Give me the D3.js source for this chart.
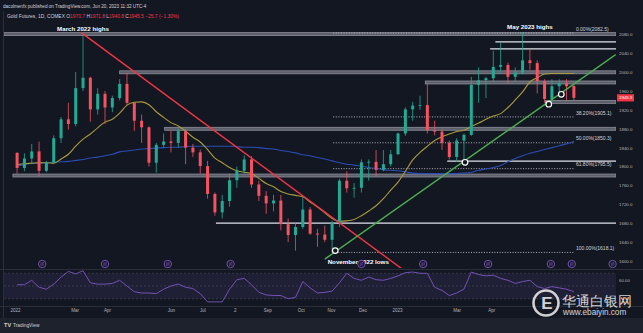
<!DOCTYPE html>
<html><head><meta charset="utf-8">
<script src="https://cdn.jsdelivr.net/npm/d3@7"></script>
<style>
body{margin:0;background:#131722;overflow:hidden}
svg{display:block}
text{font-family:"Liberation Sans",Arial,sans-serif}
</style>
</head><body>
<svg id="c" width="643" height="333"></svg>
<script>
// ---------- DATA ----------
const weeks = ["2022-01-03","2022-01-10","2022-01-17","2022-01-24","2022-01-31","2022-02-07","2022-02-14","2022-02-21","2022-02-28","2022-03-07","2022-03-14","2022-03-21","2022-03-28","2022-04-04","2022-04-11","2022-04-18","2022-04-25","2022-05-02","2022-05-09","2022-05-16","2022-05-23","2022-05-30","2022-06-06","2022-06-13","2022-06-20","2022-06-27","2022-07-04","2022-07-11","2022-07-18","2022-07-25","2022-08-01","2022-08-08","2022-08-15","2022-08-22","2022-08-29","2022-09-05","2022-09-12","2022-09-19","2022-09-26","2022-10-03","2022-10-10","2022-10-17","2022-10-24","2022-10-31","2022-11-07","2022-11-14","2022-11-21","2022-11-28","2022-12-05","2022-12-12","2022-12-19","2022-12-26","2023-01-02","2023-01-09","2023-01-16","2023-01-23","2023-01-30","2023-02-06","2023-02-13","2023-02-20","2023-02-27","2023-03-06","2023-03-13","2023-03-20","2023-03-27","2023-04-03","2023-04-10","2023-04-17","2023-04-24","2023-05-01","2023-05-08","2023-05-15","2023-05-22","2023-05-29","2023-06-05","2023-06-12","2023-06-19"];
const open  = [1829,1797,1817,1832,1791,1808,1860,1900,1890,1966,1988,1921,1954,1925,1945,1975,1935,1897,1883,1808,1846,1853,1850,1875,1840,1830,1801,1742,1703,1727,1771,1791,1815,1762,1738,1722,1728,1678,1655,1672,1709,1658,1656,1645,1681,1770,1754,1755,1809,1810,1793,1805,1826,1870,1921,1929,1930,1877,1874,1850,1820,1855,1867,1973,1983,1987,2011,2015,1990,1999,2025,2019,1981,1943,1970,1977,1970.7];
const high  = [1830,1828,1848,1853,1812,1866,1905,1935,2000,2079,1990,1966,1960,1950,1985,1998,1935,1910,1885,1850,1870,1876,1880,1880,1848,1836,1812,1745,1740,1785,1800,1824,1822,1770,1748,1740,1740,1690,1680,1735,1714,1668,1675,1685,1774,1790,1765,1815,1815,1835,1835,1835,1872,1925,1937,1950,1975,1897,1880,1855,1860,1870,1990,2010,1990,2045,2063,2020,2010,2085,2048,2025,1985,1985,1985,1985,1971.8];
const low   = [1785,1790,1805,1780,1788,1805,1850,1878,1885,1960,1895,1910,1890,1915,1940,1930,1875,1850,1800,1787,1840,1830,1840,1805,1820,1785,1732,1696,1690,1715,1755,1785,1755,1727,1700,1705,1665,1640,1622,1668,1655,1630,1640,1618,1672,1745,1734,1745,1770,1780,1790,1800,1825,1865,1897,1920,1870,1866,1835,1815,1810,1813,1865,1935,1945,1980,1999,1975,1980,1995,2005,1955,1935,1937,1950,1940,1940.8];
const close = [1797,1817,1832,1791,1808,1860,1900,1890,1966,1988,1921,1954,1925,1945,1975,1935,1897,1883,1808,1846,1853,1850,1875,1840,1830,1801,1742,1703,1727,1771,1791,1815,1762,1738,1722,1728,1678,1655,1672,1709,1658,1656,1645,1681,1770,1754,1755,1809,1810,1793,1805,1826,1870,1921,1929,1930,1877,1874,1850,1820,1855,1867,1973,1983,1987,2011,2015,1990,1999,2025,2019,1981,1943,1970,1977,1970,1945.5];
const sma50  = [1804,1806,1807,1808,1808,1807,1816,1826,1843,1858,1869,1882,1894,1900,1913,1930,1936,1937,1931,1916,1904,1893,1886,1875,1862,1852,1836,1818,1808,1798,1791,1788,1785,1775,1764,1757,1747,1742,1739,1736,1725,1714,1702,1690,1684,1685,1688,1696,1706,1717,1732,1750,1767,1790,1814,1830,1843,1855,1863,1869,1874,1877,1885,1892,1900,1907,1912,1925,1941,1958,1979,1988,1996,1997,1997,1997,1997];
const sma200 = [1801,1804,1807,1807,1808,1809,1810,1811,1813,1815,1818,1820,1823,1826,1831,1833,1835,1837,1838,1839,1840,1841,1841,1842,1843,1843,1843,1843,1843,1843,1842,1841,1841,1840,1838,1837,1834,1832,1829,1825,1823,1819,1816,1812,1808,1805,1803,1801,1798,1796,1793,1792,1791,1789,1786,1785,1785,1785,1785,1785,1785,1786,1788,1792,1795,1798,1802,1810,1817,1823,1828,1832,1836,1840,1844,1848,1853];
const rsi = [52,52,59,48,45,53,64,73,69,74,55,53,53,54,59,50,41,39,39,38,45,50,53,48,46,38,25,25,25,45,60,62,52,40,36,35,35,30,32,57,47,39,40,42,55,70,62,59,64,60,59,62,66,71,72,70,70,48,43,35,39,45,72,68,66,67,62,59,54,57,59,49,46,49,47,45,41];

const priceTicks = [1600,1640,1680,1720,1760,1800,1840,1880,1920,1960,2000,2040,2080];
const rsiTicks = [60];
const timeTickDates  = ["2022-01-03","2022-03-01","2022-04-01","2022-06-01","2022-07-01","2022-08-01","2022-09-01","2022-10-03","2022-11-01","2022-12-01","2023-01-03","2023-03-01","2023-04-03"];
const timeTickLabels = ["2022","Mar","Apr","Jun","Jul","2","Sep","Oct","Nov","Dec","2023","Mar","Apr"];

// grey zones: price, start date (run to right edge)
const zonePrices = [2080.3,1999.5,1978,1937,1880,1781];
const zoneStarts = ["2021-12-23","2022-04-13","2023-01-30","2023-05-25","2022-05-26","2022-01-01"];
// white support/resistance lines
const linePrices = [2064,2049,1811.5,1680];
const lineStarts = ["2023-04-07","2023-04-02","2023-02-20","2022-07-14"];
// fibonacci levels
const fibPct    = ["0.00%","38.20%","50.00%","61.80%","100.00%"];
const fibPrices = [2082.5,1905.1,1850.3,1795.5,1618.1];
const fibStart = "2022-11-03", fibEnd = "2023-06-22";
// trend lines [date, price]
const redTrend   = [["2022-03-07",2084],["2023-01-08",1583]];
const greenTrend = [["2022-10-26",1604],["2023-07-31",2037]];
// touch circles
const touchDates  = ["2022-11-05","2023-03-09","2023-05-28","2023-06-09"];
const touchPrices = [1622,1809,1932,1953];
// rollover events
const eventDates = ["2022-01-29","2022-03-30","2022-05-29","2022-07-28","2022-11-30","2023-01-28","2023-03-31","2023-05-30","2023-06-19","2023-07-28"];
// annotations
const noteTexts  = ["March 2022 highs","May 2023 highs","November 2022 lows"];
const noteDates  = ["2022-03-09","2023-05-10","2022-11-27"];
const notePrices = [2088,2091,1594];
const lastPrice = 1945.5;

// ---------- DRAW ----------
const parse = d3.timeParse("%Y-%m-%d");
const svg = d3.select("#c");
const W = 643, H = 333;
const L = 4, R = 616, T = 22, B = 268;
const x = d3.scaleTime().domain([parse("2022-01-03"), parse("2023-01-03")]).range([15, 397]);
const y = d3.scaleLinear().domain([1600, 2080]).range([261, 34.3]);
const yR = d3.scaleLinear().domain([30, 70]).range([298.7, 273.3]);
const xw = d => x(d3.timeDay.offset(parse(d), 2));
const xd = d => x(parse(d));

svg.append("rect").attr("width", W).attr("height", H).attr("fill", "#131722");
svg.append("rect").attr("y", 318).attr("width", W).attr("height", 15).attr("fill", "#1e222d");
svg.append("line").attr("x1",0).attr("x2",W).attr("y1",269.5).attr("y2",269.5).attr("stroke","#2a2e39").attr("stroke-width",1.2);
svg.append("line").attr("x1",0).attr("x2",W).attr("y1",306.5).attr("y2",306.5).attr("stroke","#2a2e39").attr("stroke-width",1);
svg.append("line").attr("x1",3.5).attr("x2",3.5).attr("y1",11).attr("y2",318).attr("stroke","#2a2e39").attr("stroke-width",1);

const defs = svg.append("defs");
defs.append("clipPath").attr("id","main").append("rect").attr("x",L).attr("y",T-10).attr("width",R-L).attr("height",B-T+10);

// header
svg.append("text").attr("x",3).attr("y",7.5).attr("font-size",4.6).attr("fill","#d1d4dc")
  .text("dacolmenfx published on TradingView.com, Jun 20, 2023 11:32 UTC-4");
const hdr = svg.append("text").attr("x",7).attr("y",18).attr("font-size",4.9).attr("fill","#d1d4dc");
const red = "#f23645";
[["Gold Futures, 1D, COMEX  ","#d1d4dc"],["O","#d1d4dc"],["1970.7",red],[" H","#d1d4dc"],["1971.8",red],[" L","#d1d4dc"],["1940.8",red],[" C","#d1d4dc"],["1945.5",red],[" \u221225.7 (\u22121.30%)",red]]
  .forEach(([t,c]) => hdr.append("tspan").attr("fill",c).text(t));

const g = svg.append("g").attr("clip-path","url(#main)");

// zones
zonePrices.forEach((p,i) => {
  const x0 = Math.max(L, xd(zoneStarts[i]));
  g.append("rect").attr("x",x0).attr("y",y(p)-1.5).attr("width",R-x0).attr("height",3)
   .attr("fill","#5d606b").attr("stroke","#9598a1").attr("stroke-width",0.7);
});
// white lines
linePrices.forEach((p,i) => {
  const x0 = xd(lineStarts[i]);
  g.append("line").attr("x1",x0).attr("x2",R).attr("y1",y(p)).attr("y2",y(p))
   .attr("stroke","#e0e3eb").attr("stroke-width",1.3);
});
// fib dotted
fibPrices.forEach((p,i) => {
  g.append("line").attr("x1",xd(fibStart)).attr("x2",xd(fibEnd)).attr("y1",y(p)).attr("y2",y(p))
   .attr("stroke","#b2b5be").attr("stroke-width",1).attr("stroke-dasharray","1,1.6");
  svg.append("text").attr("x",xd(fibEnd)+1).attr("y",y(p)-2.3).attr("font-size",5).attr("fill","#d1d4dc")
   .text(`${fibPct[i]}(${fibPrices[i].toFixed(1)})`);
});

// moving averages
const lineGen = arr => d3.line().x((d,i)=>xw(weeks[i])).y(d=>y(d)).curve(d3.curveMonotoneX)(arr);
g.append("path").attr("d",lineGen(sma200)).attr("fill","none").attr("stroke","#2a4db3").attr("stroke-width",1.1);
g.append("path").attr("d",lineGen(sma50)).attr("fill","none").attr("stroke","#a99c3b").attr("stroke-width",1.1);

// candles
const cw = 3;
weeks.forEach((w,i) => {
  const cx = xw(w), up = close[i] >= open[i];
  const col = up ? "#22ab94" : "#f7525f";
  g.append("line").attr("x1",cx).attr("x2",cx).attr("y1",y(high[i])).attr("y2",y(low[i])).attr("stroke",col).attr("stroke-width",0.8);
  const yt = y(Math.max(open[i],close[i])), yb = y(Math.min(open[i],close[i]));
  g.append("rect").attr("x",cx-cw/2).attr("y",yt).attr("width",cw).attr("height",Math.max(0.8,yb-yt)).attr("fill",col);
});

// trend lines
const tl = (pts,col) => g.append("line")
  .attr("x1",xd(pts[0][0])).attr("y1",y(pts[0][1])).attr("x2",xd(pts[1][0])).attr("y2",y(pts[1][1]))
  .attr("stroke",col).attr("stroke-width",1.4);
tl(redTrend,"#f23645");
tl(greenTrend,"#4caf50");

// touch circles
touchDates.forEach((d,i) => {
  g.append("circle").attr("cx",xd(d)).attr("cy",y(touchPrices[i])).attr("r",2.8)
   .attr("fill","#131722").attr("stroke","#ffffff").attr("stroke-width",1.2);
});

// annotations
noteTexts.forEach((t,i) => {
  svg.append("text").attr("x",xd(noteDates[i])).attr("y",y(notePrices[i])).attr("text-anchor","middle")
   .attr("font-size",6.2).attr("font-weight","bold").attr("fill","#ffffff").text(t);
});

// event icons
eventDates.forEach(d => {
  const ex = xd(d), ey = 264;
  const ig = svg.append("g").attr("transform",`translate(${ex},${ey})`);
  ig.append("circle").attr("r",3.7).attr("fill","#131722").attr("stroke","#7e57c2").attr("stroke-width",0.9);
  ig.append("path").attr("d","M-1.8,-0.9H1.6M1.8,0.9H-1.6M0.8,-1.7L1.7,-0.9M-0.8,1.7L-1.7,0.9")
    .attr("stroke","#7e57c2").attr("stroke-width",0.7).attr("fill","none");
});

// RSI pane
svg.append("rect").attr("x",L).attr("y",yR(70)).attr("width",R-L).attr("height",yR(30)-yR(70)).attr("fill","rgba(126,87,194,0.12)");
[70,50,30].forEach(v => svg.append("line").attr("x1",L).attr("x2",R).attr("y1",yR(v)).attr("y2",yR(v))
  .attr("stroke","#787b86").attr("stroke-opacity",0.5).attr("stroke-width",0.6).attr("stroke-dasharray","2,2"));
svg.append("path").attr("d", d3.line().x((d,i)=>xw(weeks[i])).y(d=>yR(d))(rsi))
  .attr("fill","none").attr("stroke","#7e57c2").attr("stroke-width",0.9);

// price axis
const pa = svg.append("g").attr("transform","translate(619,0)")
  .call(d3.axisRight(y).tickValues(priceTicks).tickSize(0).tickPadding(0).tickFormat(d3.format(".1f")));
pa.select(".domain").remove();
pa.selectAll("text").attr("font-size",4.4).attr("fill","#b2b5be").attr("font-family","Liberation Sans, Arial");
const ra = svg.append("g").attr("transform","translate(619,0)")
  .call(d3.axisRight(yR).tickValues(rsiTicks).tickSize(0).tickPadding(0).tickFormat(d3.format(".2f")));
ra.select(".domain").remove();
ra.selectAll("text").attr("font-size",4.4).attr("fill","#b2b5be").attr("font-family","Liberation Sans, Arial");

// last price label
svg.append("rect").attr("x",617).attr("y",y(lastPrice)-3.6).attr("width",17).attr("height",7.2).attr("fill","#f23645");
svg.append("text").attr("x",619).attr("y",y(lastPrice)+1.6).attr("font-size",4.4).attr("fill","#ffffff").text(lastPrice.toFixed(1));

// time axis
const ta = svg.append("g").attr("transform","translate(0,309)")
  .call(d3.axisBottom(x).tickValues(timeTickDates.map(parse)).tickSize(0).tickPadding(0)
    .tickFormat((d,i)=>timeTickLabels[i]));
ta.select(".domain").remove();
ta.selectAll("text").attr("font-size",4.5).attr("fill","#b2b5be").attr("font-family","Liberation Sans, Arial");

// footer logo
svg.append("text").attr("x",4).attr("y",327).attr("font-size",5.6).attr("font-weight","bold").attr("fill","#d1d4dc").text("TV");
svg.append("text").attr("x",13).attr("y",327).attr("font-size",4.8).attr("fill","#d1d4dc").text("TradingView");

// watermark
const wm = svg.append("g").attr("opacity",0.8);
wm.append("circle").attr("cx",546).attr("cy",303).attr("r",12.5).attr("fill","none").attr("stroke","#ffffff").attr("stroke-width",2.6);
wm.append("text").attr("x",547).attr("y",309).attr("text-anchor","middle").attr("font-size",17).attr("font-weight","bold").attr("fill","#ffffff").text("E");
wm.append("text").attr("x",562).attr("y",306).attr("font-size",14).attr("fill","#ffffff")
  .attr("font-family","Noto Sans CJK SC").text("华通白银网");
wm.append("text").attr("x",563).attr("y",315).attr("font-size",8.2).attr("fill","#ffffff").text("www.ebaiyin.com");
</script>
</body></html>
